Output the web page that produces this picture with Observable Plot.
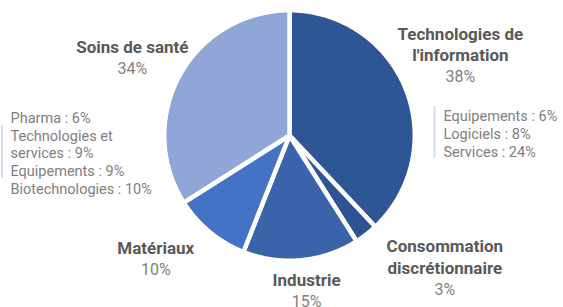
<!DOCTYPE html>
<html>
<head>
<meta charset="utf-8">
<script src="https://cdn.jsdelivr.net/npm/d3@7"></script>
<script src="https://cdn.jsdelivr.net/npm/@observablehq/plot@0.6"></script>
<style>
  html, body { margin: 0; padding: 0; background: #ffffff; }
  #chart svg { display: block; }
</style>
</head>
<body>
<div id="chart"></div>
<script>
// ---- data ----
const sectors = ["Technologies de l'information", "Consommation discrétionnaire", "Industrie", "Matériaux", "Soins de santé"];
const sectorLabels = ["Technologies de\nl'information", "Consommation\ndiscrétionnaire", "Industrie", "Matériaux", "Soins de santé"];
const shares = [38, 3, 15, 10, 34];

const itSubNames = ["Equipements", "Logiciels", "Services"];
const itSubShares = [6, 8, 24];
const healthSubNames = ["Pharma", "Technologies et services", "Equipements", "Biotechnologies"];
const healthSubShares = [6, 9, 9, 10];

// ---- style ----
const palette = ["#2E5594", "#2E5393", "#3A63AA", "#4472C4", "#8FA6D6"];
const W = 563, H = 307;
const cx = 289, cy = 135, R = 125.25; // pixel centre and geometric radius

const rows = sectors.map((s, i) => ({sector: s, label: sectorLabels[i], share: shares[i]}));
const arcs = d3.pie().sort(null).value(d => d.share)(rows);

// slice outlines in unit-circle coordinates (angle measured clockwise from 12 o'clock)
const outline = [];
for (const a of arcs) {
  const s = a.data.sector;
  outline.push({sector: s, x: 0, y: 0});
  const steps = Math.max(2, Math.ceil((a.endAngle - a.startAngle) / (Math.PI / 360)));
  for (let k = 0; k <= steps; k++) {
    const t = a.startAngle + (a.endAngle - a.startAngle) * k / steps;
    outline.push({sector: s, x: Math.sin(t), y: Math.cos(t)});
  }
}
const labelR = 1.45;
const labelRows = arcs.map(a => {
  const m = (a.startAngle + a.endAngle) / 2;
  return {...a.data, x: labelR * Math.sin(m), y: labelR * Math.cos(m)};
});
// layout nudges for the sector labels (pixels)
const nudges = [[2, -8], [44, -5.5], [0, -30], [-18, -21], [2, 4.5]];

const font = "Roboto, 'Noto Sans', sans-serif";
const nameMarks = labelRows.map((d, i) => Plot.text([d], {
  x: "x", y: "y", text: "label", dx: nudges[i][0], dy: nudges[i][1],
  lineAnchor: "bottom", lineHeight: 1.24, fontSize: 17, fontWeight: "bold", fill: "#595959",
  fontFamily: font
}));
const pctMarks = labelRows.map((d, i) => Plot.text([d], {
  x: "x", y: "y", text: d => `${d.share}%`, dx: nudges[i][0], dy: nudges[i][1] + 21,
  lineAnchor: "bottom", fontSize: 16, fill: "#7F7F7F", fontFamily: font
}));

const itText = itSubNames.map((n, i) => `${n} : ${itSubShares[i]}%`).join("\n");
const healthText = healthSubNames.map((n, i) => `${n} : ${healthSubShares[i]}%`).join("\n");

// helper to place decorative bars in the same coordinate system
const ux = px => (px - cx) / R, uy = py => (cy - py) / R;
const subSize = 14.5, subLH = 1.22;
const firstOff = 0.71 * subLH * subSize;

const chart = Plot.plot({
  width: W, height: H,
  marginLeft: cx - R, marginRight: W - cx - R, marginTop: cy - R, marginBottom: H - cy - R,
  x: {domain: [-1, 1], axis: null},
  y: {domain: [-1, 1], axis: null},
  color: {domain: sectors, range: palette},
  style: {fontFamily: font, background: "#ffffff"},
  marks: [
    Plot.line(outline, {x: "x", y: "y", z: "sector", fill: "sector", stroke: "white", strokeWidth: 4.5,
      strokeLinejoin: "round", curve: "linear-closed"}),
    ...nameMarks,
    ...pctMarks,
    Plot.text([itText], {frameAnchor: "top-right", textAnchor: "start", lineAnchor: "top",
      dx: 443 - (cx + R), dy: 120.7 - firstOff - (cy - R), fontSize: subSize, lineHeight: subLH, fill: "#808080", fontFamily: font}),
    Plot.text([healthText], {frameAnchor: "top-left", textAnchor: "start", lineAnchor: "top", lineWidth: 11,
      dx: 10 - (cx - R), dy: 122.5 - firstOff - (cy - R), fontSize: subSize, lineHeight: subLH, fill: "#808080", fontFamily: font}),
    Plot.ruleX([ux(434)], {y1: uy(106), y2: uy(158), stroke: "#D6DBE6", strokeWidth: 2}),
    Plot.ruleX([ux(1.5)], {y1: uy(125), y2: uy(178), stroke: "#D6DBE6", strokeWidth: 2})
  ]
});
document.getElementById("chart").appendChild(chart);
</script>
</body>
</html>
